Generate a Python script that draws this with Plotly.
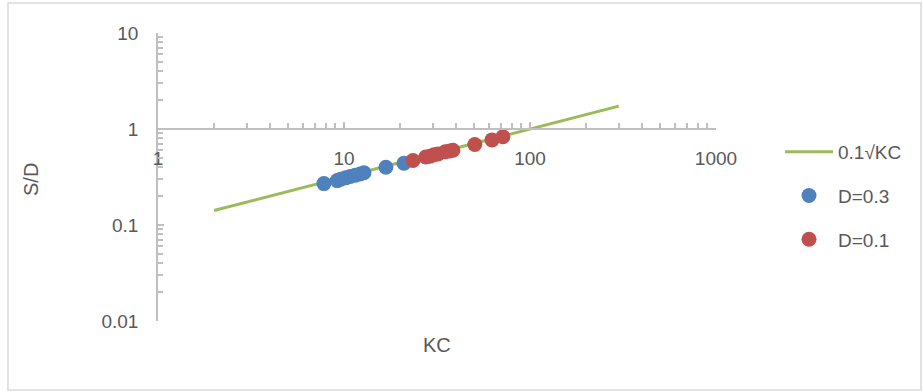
import plotly.graph_objects as go

# ---- data ----
line_kc = [2, 300]
line_sd = [0.1414, 1.732]

d03_kc = [7.8, 9.2, 9.6, 10.2, 10.8, 11.5, 12.2, 12.8, 16.8, 21.0]
d03_sd = [0.27, 0.29, 0.30, 0.31, 0.32, 0.33, 0.34, 0.35, 0.40, 0.44]

d01_kc = [23.5, 27.5, 29.0, 30.5, 32.0, 35.0, 37.0, 38.5, 50.5, 62.5, 71.5]
d01_sd = [0.47, 0.51, 0.52, 0.54, 0.55, 0.58, 0.59, 0.60, 0.69, 0.77, 0.83]

x_ticks = [1, 10, 100, 1000]
x_ticktext = ["1", "10", "100", "1000"]
y_ticks = [0.01, 0.1, 1, 10]
y_ticktext = ["0.01", "0.1", "1", "10"]
x_minor = [m * d for d in (1, 10, 100) for m in range(2, 10)]
y_minor = [m * d for d in (0.01, 0.1, 1) for m in range(2, 10)]

GREEN = "#9BBB59"
BLUE = "#4F81BD"
RED = "#C0504D"
AXIS = "#BFBFBF"
TXT = "#595959"
FONT = "Liberation Sans, Arial, sans-serif"

fig = go.Figure()
fig.add_trace(go.Scatter(x=line_kc, y=line_sd, mode="lines", name="0.1√KC",
                         line=dict(color=GREEN, width=3), legendgroup="a"))
fig.add_trace(go.Scatter(x=d03_kc, y=d03_sd, mode="markers", name="D=0.3",
                         marker=dict(color=BLUE, size=15, line=dict(width=0)), legendgroup="b"))
fig.add_trace(go.Scatter(x=d01_kc, y=d01_sd, mode="markers", name="D=0.1",
                         marker=dict(color=RED, size=15, line=dict(width=0)), legendgroup="c"))

W, H = 923, 392
L, R, T, B = 158, 207, 33, 71
pw, ph = W - L - R, H - T - B

def px(xp):
    return (xp - L) / pw

def py(yp):
    return (H - B - yp) / ph

fig.update_layout(
    width=W, height=H,
    margin=dict(l=L, r=R, t=T, b=B),
    paper_bgcolor="white", plot_bgcolor="white",
    font=dict(family=FONT, color=TXT, size=19),
    showlegend=True,
    legend=dict(x=px(780), y=py(133), xanchor="left", yanchor="top",
                font=dict(size=19, color=TXT), tracegroupgap=16,
                bgcolor="rgba(0,0,0,0)", itemwidth=48),
    xaxis=dict(type="log", range=[0, 3], anchor="free", position=py(129),
               showgrid=False, zeroline=False, showline=True, linecolor=AXIS, linewidth=1.5,
               ticks="inside", ticklen=6, tickcolor=AXIS, tickwidth=1.5,
               tickvals=x_ticks, ticktext=x_ticktext, ticklabelstandoff=12,
               tickfont=dict(size=19, color=TXT),
               minor=dict(tickvals=x_minor, ticks="inside", ticklen=5, tickcolor=AXIS,
                          tickwidth=1.5, showgrid=False)),
    yaxis=dict(type="log", range=[-2, 1], showgrid=False, zeroline=False,
               showline=True, linecolor=AXIS, linewidth=1.5,
               ticks="inside", ticklen=6, tickcolor=AXIS, tickwidth=1.5,
               tickvals=y_ticks, ticktext=y_ticktext, ticklabelstandoff=14,
               tickfont=dict(size=19, color=TXT),
               minor=dict(tickvals=y_minor, ticks="inside", ticklen=5, tickcolor=AXIS,
                          tickwidth=1.5, showgrid=False)),
    annotations=[
        dict(text="KC", xref="paper", yref="paper", x=px(437), y=py(345),
             showarrow=False, font=dict(size=20, color=TXT), xanchor="center", yanchor="middle"),
        dict(text="S/D", xref="paper", yref="paper", x=px(31), y=py(180),
             showarrow=False, textangle=-90, font=dict(size=20, color=TXT),
             xanchor="center", yanchor="middle"),
    ],
    shapes=[
        dict(type="rect", xref="paper", yref="paper", x0=px(8), x1=px(921), y0=py(390), y1=py(3),
             line=dict(color="#D9D9D9", width=1.5), fillcolor="rgba(0,0,0,0)", layer="below"),
    ],
)

fig.write_html("out.html", config={"displayModeBar": False},
               post_script="document.body.style.margin='0';")
